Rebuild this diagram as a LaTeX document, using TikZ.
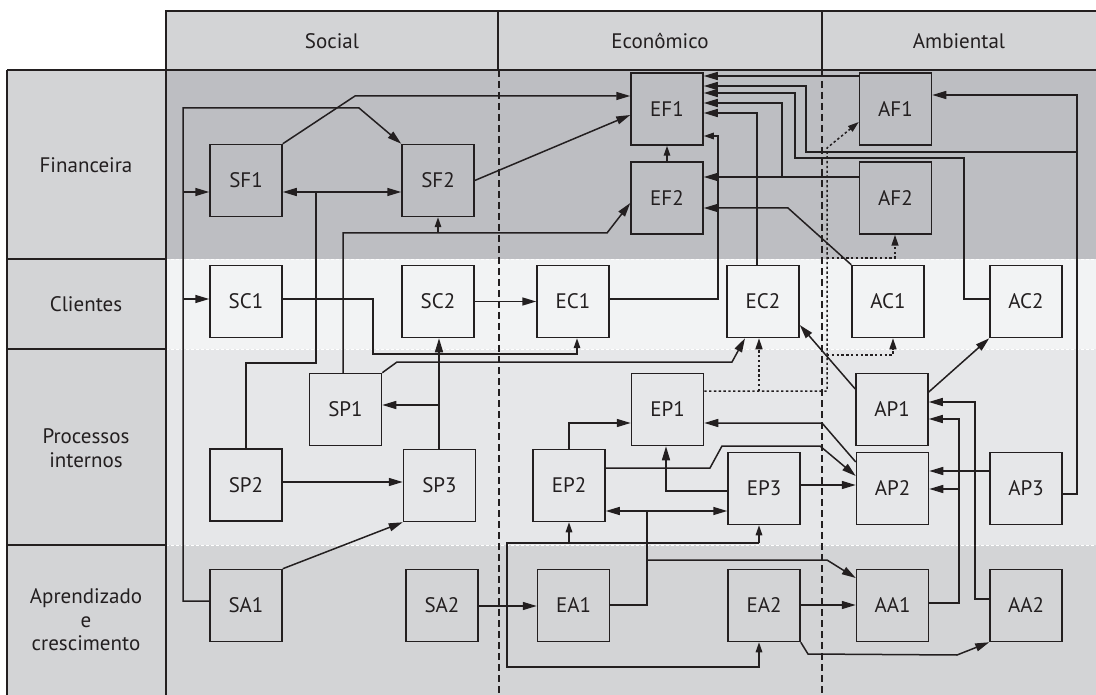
\documentclass[tikz,border=0pt]{standalone}
\usepackage{fontspec}
\setmainfont{PT Sans}
\usetikzlibrary{arrows.meta}
\definecolor{ink}{HTML}{231F20}
\definecolor{hdr}{HTML}{D3D4D6}
\definecolor{fin}{HTML}{BDBEC2}
\definecolor{cli}{HTML}{F2F3F4}
\definecolor{pro}{HTML}{E6E7E9}
\definecolor{apr}{HTML}{D3D4D6}
\newcommand\nf{\fontsize{21}{23.5}\selectfont}
\begin{document}
\begin{tikzpicture}[x=1pt,y=-1pt,
  ln/.style={draw=ink,line width=1.5pt},
  ar/.style={ln,-{Triangle[length=14pt,width=8pt]}},
  as/.style={ln,-{Triangle[length=10pt,width=6.5pt]}},
  dar/.style={ln,{Triangle[length=14pt,width=8pt]}-{Triangle[length=14pt,width=8pt]}},
  dt/.style={ln,dash pattern=on 2.4pt off 2.4pt},
  dta/.style={dt,-{Triangle[length=11pt,width=7pt]}},
  box/.style={draw=ink,line width=1.5pt,minimum width=72pt,minimum height=72pt,inner sep=0pt,text=ink,font=\nf},
  lab/.style={text=ink,font=\nf,align=center},
  sep/.style={draw=white,line width=0.7pt,dash pattern=on 3pt off 2pt},
  frm/.style={draw=ink,line width=1.4pt},
  col/.style={draw=ink,line width=1.3pt,dash pattern=on 7pt off 4pt}]
\useasboundingbox (0,0) rectangle (1096,695);
\fill[white] (0,0) rectangle (1096,695);
% bands
\fill[hdr] (166,11) rectangle (1096,70);
\fill[fin] (166,70) rectangle (1096,259);
\fill[cli] (166,259) rectangle (1096,349);
\fill[pro] (166,349) rectangle (1096,545);
\fill[apr] (166,545) rectangle (1096,695);
\fill[hdr] (7,70) rectangle (166,695);
\draw[sep] (166,259) -- (1096,259);
\draw[sep] (166,349) -- (1096,349);
\draw[sep] (166,545) -- (1096,545);
% frame lines
\draw[frm] (166,70) -- (166,11) -- (1096,11);
\draw[frm] (498,11) -- (498,70);
\draw[frm] (822,11) -- (822,70);
\draw[frm] (7,70) -- (1096,70);
\draw[frm] (7,70) -- (7,695);
\draw[frm] (166,70) -- (166,695);
\draw[frm] (7,259) -- (166,259);
\draw[frm] (7,349) -- (166,349);
\draw[frm] (7,545) -- (166,545);
\draw[col] (499,70) -- (499,695);
\draw[col] (822,70) -- (822,695);
% labels
\node[lab] (hS) at (332,41) {Social};
\node[lab] (hE) at (660,41) {Econômico};
\node[lab] (hA) at (959,41) {Ambiental};
\node[lab] (lF) at (86,165) {Financeira};
\node[lab] (lC) at (86,304) {Clientes};
\node[lab] (lP) at (86,448) {Processos\\internos};
\node[lab] (lA) at (86,620) {Aprendizado\\e\\crescimento};
% nodes
\node[box] (SF1) at (246,180.5) {SF1};
\node[box] (SF2) at (438,180.5) {SF2};
\node[box] (EF1) at (667,109) {EF1};
\node[box] (EF2) at (667,198) {EF2};
\node[box] (AF1) at (895.5,109) {AF1};
\node[box] (AF2) at (895.5,198) {AF2};
\node[box] (SC1) at (246,301.5) {SC1};
\node[box] (SC2) at (438,301.5) {SC2};
\node[box] (EC1) at (573,301.5) {EC1};
\node[box] (EC2) at (763,301.5) {EC2};
\node[box] (AC1) at (888,301.5) {AC1};
\node[box] (AC2) at (1026,301.5) {AC2};
\node[box] (SP1) at (345.5,409.5) {SP1};
\node[box] (SP2) at (246,485) {SP2};
\node[box] (SP3) at (439.5,485.5) {SP3};
\node[box] (EP1) at (667.5,409.5) {EP1};
\node[box] (EP2) at (569,485.5) {EP2};
\node[box] (EP3) at (764,488.5) {EP3};
\node[box] (AP1) at (892,409.5) {AP1};
\node[box] (AP2) at (892.5,488.5) {AP2};
\node[box] (AP3) at (1026,488.5) {AP3};
\node[box] (SA1) at (246,605.5) {SA1};
\node[box] (SA2) at (442,605.5) {SA2};
\node[box] (EA1) at (573.5,605.5) {EA1};
\node[box] (EA2) at (764,605.5) {EA2};
\node[box] (AA1) at (892.5,605.5) {AA1};
\node[box] (AA2) at (1026,605.5) {AA2};
% junctions
\coordinate (j1) at (183,192);
\coordinate (j2) at (183,299);
% SA1 hub
\draw[ar] (SA1.west |- 0,601) -- (183,601) -- (183,108) -- (359,108) -- (SF2.north west);
\draw[ar] (j1) -- (SF1.west |- j1);
\draw[ar] (j2) -- (SC1.west |- j2);
% SF1 -> EF1
\draw[ar] (SF1.north east) -- (355,96) -- (EF1.west |- 0,96);
% SP2 -> SF1, SF2
\draw[ln] (SP2.north) -- (246,363) -- (316,363) -- (316,192);
\draw[dar] (SF1.east |- 0,192) -- (SF2.west |- 0,192);
% SP1 -> SF2, EF2
\draw[ar] (SP1.north -| 343,0) -- (343,233) -- (607,233) -- (EF2.west |- 0,203);
\draw[as] (438,233) -- (SF2.south);
% SF2 -> EF1
\draw[ar] (SF2.east) -- (EF1.west |- 0,115);
\draw[as] (EF2.north) -- (EF1.south);
% into EF1 east
\draw[ar] (AF1.west |- 0,76) -- (EF1.east |- 0,76);
\draw[ar] (AP3.east |- 0,494) -- (1077,494) -- (1077,95) -- (AF1.east |- 0,95);
\draw[ar] (1077,152) -- (806,152) -- (806,86) -- (EF1.east |- 0,86);
\draw[ar] (AC2.west |- 0,299) -- (964,299) -- (964,158) -- (795,158) -- (795,93) -- (EF1.east |- 0,93);
\draw[ar] (AF2.west |- 0,177) -- (EF2.east |- 0,177);
\draw[ar] (782,177) -- (782,103) -- (EF1.east |- 0,103);
\draw[ar] (EC2.north -| 757,0) -- (757,113) -- (EF1.east |- 0,113);
\draw[as] (EC1.east |- 0,299) -- (718,299) -- (718,136) -- (EF1.east |- 0,136);
\draw[ar] (AC1.north west) -- (788,208) -- (EF2.east |- 0,208);
% dotted from EP1
\draw[dta] (EP1.east |- 0,391) -- (827,391) -- (827,148) -- (AF1.west |- 0,122);
\draw[dta] (759,391) -- (EC2.south -| 759,0);
\draw[dta] (827,355) -- (893,355) -- (AC1.south -| 893,0);
\draw[dta] (827,258) -- (895,258) -- (AF2.south -| 895,0);
% clientes
\draw[as] (SC1.east |- 0,299) -- (373,299) -- (373,354) -- (577,354) -- (EC1.south -| 577,0);
\draw[ar] (SC2.east) -- (EC1.west);
\draw[ar] (SP1.north east) -- (397,362) -- (732,362) -- (EC2.south -| 745,0);
\draw[ar] (SP3.north -| 439,0) -- (SC2.south -| 439,0);
\draw[ar] (439,405) -- (SP1.east |- 0,405);
\draw[ar] (AP1.west |- 0,389) -- (EC2.east |- 0,325);
\draw[ar] (AP1.east |- 0,392) -- (AC2.south west);
% processos
\draw[ar] (SP2.east |- 0,482) -- (SP3.west |- 0,482);
\draw[ar] (SA1.north east) -- (SP3.south west);
\draw[ar] (EP2.north) -- (569,423) -- (EP1.west |- 0,423);
\draw[ar] (AP2.west |- 0,462) -- (822,423) -- (EP1.east |- 0,423);
\draw[ar] (EP2.east |- 0,468) -- (710,468) -- (722,446) -- (820,446) -- (AP2.west |- 0,476);
\draw[ar] (EP3.west |- 0,491) -- (666,491) -- (EP1.south -| 666,0);
\draw[ar] (EP3.east |- 0,485) -- (AP2.west |- 0,485);
\draw[dar] (EP2.east |- 0,511) -- (EP3.west |- 0,511);
\draw[ln] (EA1.east |- 0,605) -- (647,605) -- (647,511);
\draw[ar] (647,560) -- (827,560) -- (AA1.west |- 0,578);
% aprendizado
\draw[ar] (SA2.east |- 0,606) -- (EA1.west |- 0,606);
\draw[as] (759,543) -- (507,543) -- (507,667) -- (759,667) -- (EA2.south -| 759,0);
\draw[as] (759,543) -- (EP3.south -| 759,0);
\draw[as] (569,543) -- (EP2.south -| 569,0);
\draw[ar] (EA2.east |- 0,605) -- (AA1.west |- 0,605);
\draw[ar] (EA2.south east) -- (808,654) -- (957,655) -- (AA2.south west);
\draw[ar] (AA1.east |- 0,603) -- (959,603) -- (959,419) -- (AP1.east |- 0,419);
\draw[ar] (959,489) -- (AP2.east |- 0,489);
\draw[ar] (AA2.west |- 0,599) -- (975,599) -- (975,402) -- (AP1.east |- 0,402);
\draw[ar] (AP3.west |- 0,471) -- (AP2.east |- 0,471);
\end{tikzpicture}
\end{document}
